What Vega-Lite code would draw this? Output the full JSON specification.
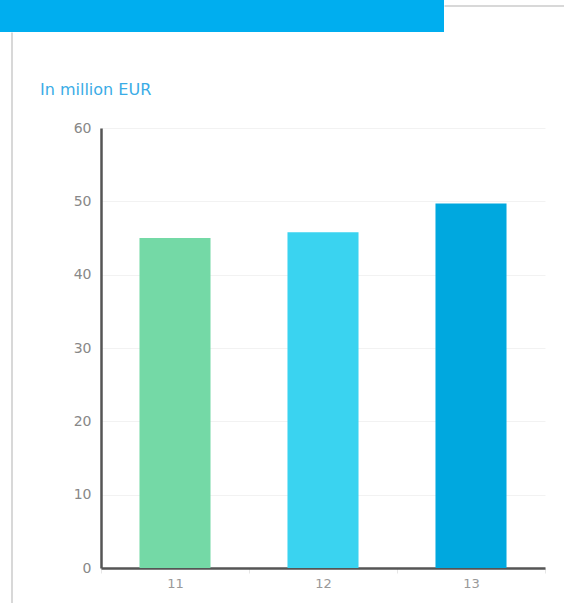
{
  "$schema": "https://vega.github.io/schema/vega-lite/v6.json",
  "padding": 0,
  "background": "white",
  "spacing": 0,
  "config": {"view": {"stroke": null}, "font": "DejaVu Sans"},
  "vconcat": [
    {
      "spacing": 0,
      "hconcat": [
        {
          "width": 444,
          "height": 32,
          "view": {"fill": "#00AEEF", "stroke": null},
          "data": {"values": []},
          "mark": "point"
        },
        {
          "width": 120,
          "height": 5.5,
          "data": {"values": []},
          "mark": "point",
          "encoding": {
            "x": {
              "field": "f",
              "type": "quantitative",
              "scale": {"domain": [0, 1]},
              "axis": {"title": null, "labels": false, "ticks": false, "grid": false, "domainColor": "#d8d8d8", "domainWidth": 2}
            }
          }
        }
      ]
    },
    {
      "concat": [
        {
          "width": 11.5,
          "height": 571,
          "data": {"values": []},
          "mark": "point",
          "encoding": {
            "y": {
              "field": "f",
              "type": "quantitative",
              "scale": {"domain": [0, 1]},
              "axis": {"orient": "right", "title": null, "labels": false, "ticks": false, "grid": false, "domainColor": "#d8d8d8", "domainWidth": 2}
            }
          }
        },
        {
          "spacing": 49,
          "vconcat": [
            {
              "width": 1,
              "height": 1,
              "data": {"values": []},
              "mark": "point"
            },
            {
              "width": 444,
              "height": 440,
              "title": {
                "text": "In million EUR",
                "anchor": "start",
                "frame": "group",
                "dx": -61,
                "offset": 10,
                "baseline": "alphabetic",
                "fontSize": 16,
                "font": "DejaVu Sans",
                "fontWeight": "normal",
                "color": "#3AACE6"
              },
              "data": {
                "values": [
                  {"year": "11", "value": 45.0},
                  {"year": "12", "value": 45.8},
                  {"year": "13", "value": 49.7}
                ]
              },
              "mark": {"type": "bar", "width": {"band": 0.48}},
              "encoding": {
                "x": {
                  "field": "year",
                  "type": "nominal",
                  "scale": {"paddingInner": 0, "paddingOuter": 0},
                  "axis": {
                    "title": null,
                    "labelAngle": 0,
                    "labelFontSize": 13,
                    "labelColor": "#999999",
                    "labelPadding": 4,
                    "domainColor": "#555555",
                    "domainWidth": 2.5,
                    "ticks": true,
                    "tickBand": "extent",
                    "tickColor": "#e6e6e6",
                    "tickSize": 5,
                    "grid": false
                  }
                },
                "y": {
                  "field": "value",
                  "type": "quantitative",
                  "scale": {"domain": [0, 60]},
                  "axis": {
                    "title": null,
                    "values": [0, 10, 20, 30, 40, 50, 60],
                    "labelFontSize": 14,
                    "labelColor": "#888888",
                    "labelPadding": 10,
                    "ticks": false,
                    "domainColor": "#555555",
                    "domainWidth": 2.5,
                    "gridColor": "#f2f2f2",
                    "gridWidth": 1
                  }
                },
                "color": {
                  "field": "year",
                  "type": "nominal",
                  "scale": {"range": ["#74D9A6", "#3AD3F0", "#00A8DF"]},
                  "legend": null
                }
              }
            }
          ]
        }
      ],
      "columns": 2,
      "align": "none",
      "spacing": 28
    }
  ]
}
